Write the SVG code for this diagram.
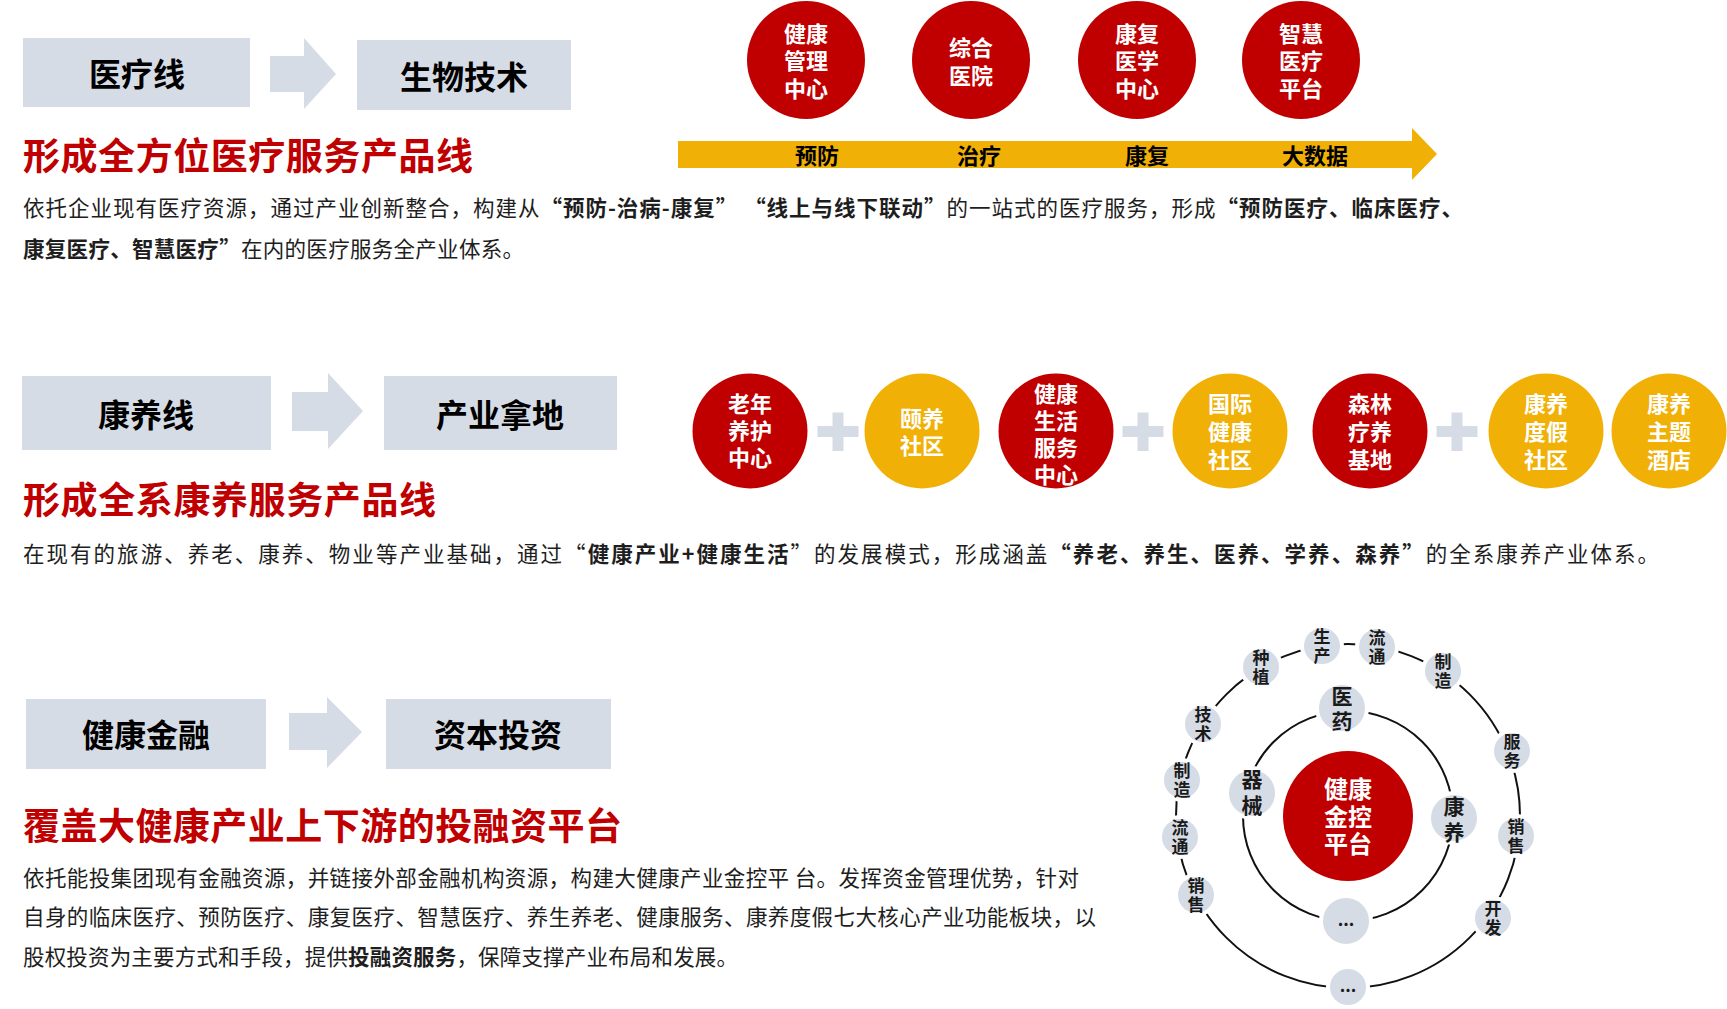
<svg xmlns="http://www.w3.org/2000/svg" width="1727" height="1009" viewBox="0 0 1727 1009">
<style>
text{font-family:"Noto Sans CJK SC","Liberation Sans",sans-serif}
.box{fill:#D6DCE5}
.boxt{font-size:32px;font-weight:700;fill:#000;text-anchor:middle}
.title{font-size:37px;font-weight:700;fill:#C00000}
.body{font-size:21.5px;fill:#1e1e1e}
.b{font-weight:700}
.red{fill:#C00000}
.yel{fill:#F0B005}
.ct{font-size:22px;font-weight:700;fill:#fff;text-anchor:middle}
.lab{font-size:22px;font-weight:700;fill:#000;text-anchor:middle}
.ring{fill:none;stroke:#111;stroke-width:2}
.sn{fill:#D6DCE5;stroke:#fff;stroke-width:4}
.st{font-size:17px;font-weight:700;fill:#1a1a1a;text-anchor:middle}
.mt{font-size:21px;font-weight:700;fill:#1a1a1a;text-anchor:middle}
</style>

<!-- Section 1 -->
<g id="box-yiliaoxian"><rect class="box" x="23" y="38" width="227" height="69"/><text class="boxt" x="137" y="86">医疗线</text></g>
<g id="arrow-1"><polygon class="box" points="270,56 304,56 304,38 336,74 304,109 304,92 270,92"/></g>
<g id="box-shengwujishu"><rect class="box" x="357" y="40" width="214" height="70"/><text class="boxt" x="464" y="89">生物技术</text></g>
<text class="title" x="23" y="170" textLength="450">形成全方位医疗服务产品线</text>
<text class="body" x="23" y="216" textLength="1440">依托企业现有医疗资源，通过产业创新整合，构建从<tspan class="b">“预防-治病-康复” “线上与线下联动”</tspan>的一站式的医疗服务，形成<tspan class="b">“预防医疗、临床医疗、</tspan></text>
<text class="body" x="23" y="257" textLength="501"><tspan class="b">康复医疗、智慧医疗”</tspan>在内的医疗服务全产业体系。</text>

<g id="timeline-arrow"><polygon class="yel" points="678,141 1412,141 1412,128 1437,154 1412,180 1412,168 678,168"/>
<text class="lab" x="817" y="164">预防</text><text class="lab" x="979" y="164">治疗</text><text class="lab" x="1147" y="164">康复</text><text class="lab" x="1315" y="164">大数据</text></g>

<g id="c-jiankangguanli"><circle class="red" cx="806" cy="60" r="59"/><text class="ct" x="806" y="41.5">健康<tspan x="806" dy="27.5">管理</tspan><tspan x="806" dy="27.5">中心</tspan></text></g>
<g id="c-zonghe"><circle class="red" cx="971" cy="60" r="59"/><text class="ct" x="971" y="56">综合<tspan x="971" dy="27.5">医院</tspan></text></g>
<g id="c-kangfu"><circle class="red" cx="1137" cy="60" r="59"/><text class="ct" x="1137" y="41.5">康复<tspan x="1137" dy="27.5">医学</tspan><tspan x="1137" dy="27.5">中心</tspan></text></g>
<g id="c-zhihui"><circle class="red" cx="1301" cy="60" r="59"/><text class="ct" x="1301" y="41.5">智慧<tspan x="1301" dy="27.5">医疗</tspan><tspan x="1301" dy="27.5">平台</tspan></text></g>

<!-- Section 2 -->
<g id="box-kangyangxian"><rect class="box" x="22" y="376" width="249" height="74"/><text class="boxt" x="146" y="427">康养线</text></g>
<g id="arrow-2"><polygon class="box" points="292,392 328,392 328,373 363,411 328,449 328,431 292,431"/></g>
<g id="box-chanyenadi"><rect class="box" x="384" y="376" width="233" height="74"/><text class="boxt" x="500" y="427">产业拿地</text></g>
<text class="title" x="23" y="514" textLength="413">形成全系康养服务产品线</text>
<text class="body" x="23" y="562" textLength="1636">在现有的旅游、养老、康养、物业等产业基础，通过“<tspan class="b">健康产业+健康生活</tspan>”的发展模式，形成涵盖<tspan class="b">“养老、养生、医养、学养、森养”</tspan>的全系康养产业体系。</text>

<g id="c-laonian"><circle class="red" cx="750" cy="431" r="57.5"/><text class="ct" x="750" y="411.5">老年<tspan x="750" dy="27">养护</tspan><tspan x="750" dy="27">中心</tspan></text></g>
<g id="plus-1"><path class="box" d="M832.5 412.5h11v13.5h15v11h-15v14h-11v-14h-15v-11h15z"/></g>
<g id="c-yiyang"><circle class="yel" cx="922" cy="431" r="57.5"/><text class="ct" x="922" y="427">颐养<tspan x="922" dy="27">社区</tspan></text></g>
<g id="c-jiankangshenghuo"><circle class="red" cx="1056" cy="431" r="57.5"/><text class="ct" x="1056" y="401.5">健康<tspan x="1056" dy="27.3">生活</tspan><tspan x="1056" dy="27.3">服务</tspan><tspan x="1056" dy="27.3">中心</tspan></text></g>
<g id="plus-2"><path class="box" d="M1137.5 412.5h11v13.5h15v11h-15v14h-11v-14h-15v-11h15z"/></g>
<g id="c-guoji"><circle class="yel" cx="1230" cy="431" r="57.5"/><text class="ct" x="1230" y="411.5">国际<tspan x="1230" dy="28">健康</tspan><tspan x="1230" dy="28">社区</tspan></text></g>
<g id="c-senlin"><circle class="red" cx="1370" cy="431" r="57.5"/><text class="ct" x="1370" y="411.5">森林<tspan x="1370" dy="28">疗养</tspan><tspan x="1370" dy="28">基地</tspan></text></g>
<g id="plus-3"><path class="box" d="M1451.5 412.5h11v13.5h15v11h-15v14h-11v-14h-15v-11h15z"/></g>
<g id="c-dujia"><circle class="yel" cx="1546" cy="431" r="57.5"/><text class="ct" x="1546" y="411.5">康养<tspan x="1546" dy="28">度假</tspan><tspan x="1546" dy="28">社区</tspan></text></g>
<g id="c-jiudian"><circle class="yel" cx="1669" cy="431" r="57.5"/><text class="ct" x="1669" y="411.5">康养<tspan x="1669" dy="28">主题</tspan><tspan x="1669" dy="28">酒店</tspan></text></g>

<!-- Section 3 -->
<g id="box-jiankangjinrong"><rect class="box" x="26" y="699" width="240" height="70"/><text class="boxt" x="146" y="747">健康金融</text></g>
<g id="arrow-3"><polygon class="box" points="289,713 327,713 327,697 362,732 327,768 327,750 289,750"/></g>
<g id="box-zibentouzi"><rect class="box" x="386" y="699" width="225" height="70"/><text class="boxt" x="498" y="747">资本投资</text></g>
<text class="title" x="23" y="840" textLength="599">覆盖大健康产业上下游的投融资平台</text>
<text class="body" x="23" y="886" textLength="1056">依托能投集团现有金融资源，并链接外部金融机构资源，构建大健康产业金控平 台。发挥资金管理优势，针对</text>
<text class="body" x="23" y="925" textLength="1073">自身的临床医疗、预防医疗、康复医疗、智慧医疗、养生养老、健康服务、康养度假七大核心产业功能板块，以</text>
<text class="body" x="23" y="965" textLength="715">股权投资为主要方式和手段，提供<tspan class="b">投融资服务</tspan>，保障支撑产业布局和发展。</text>

<g id="connectors">
<circle class="ring" cx="1348" cy="816" r="172"/>
<circle class="ring" cx="1348" cy="816" r="105"/>
</g>

<g id="n-center"><circle class="red" cx="1348" cy="816" r="65"/><text class="ct" style="font-size:24px" x="1348" y="798">健康<tspan x="1348" dy="27.5">金控</tspan><tspan x="1348" dy="27.5">平台</tspan></text></g>

<g id="n-yiyao"><circle class="sn" cx="1342" cy="708" r="25"/><text class="mt" x="1342" y="704">医<tspan x="1342" dy="25">药</tspan></text></g>
<g id="n-qixie"><circle class="sn" cx="1252" cy="793" r="25"/><text class="mt" x="1252" y="787">器<tspan x="1252" dy="26">械</tspan></text></g>
<g id="n-kangyang"><circle class="sn" cx="1454" cy="818" r="25"/><text class="mt" x="1454" y="814">康<tspan x="1454" dy="26">养</tspan></text></g>
<g id="n-inner-more"><circle class="sn" cx="1346" cy="921" r="25"/><text class="st" x="1346" y="926">...</text></g>

<g id="n-zhongzhi"><circle class="sn" cx="1261" cy="667" r="20"/><text class="st" x="1261" y="664">种<tspan x="1261" dy="19">植</tspan></text></g>
<g id="n-shengchan"><circle class="sn" cx="1322" cy="646" r="20"/><text class="st" x="1322" y="643">生<tspan x="1322" dy="19">产</tspan></text></g>
<g id="n-liutong"><circle class="sn" cx="1377" cy="647" r="20"/><text class="st" x="1377" y="644">流<tspan x="1377" dy="19">通</tspan></text></g>
<g id="n-zhizao"><circle class="sn" cx="1443" cy="671" r="20"/><text class="st" x="1443" y="668">制<tspan x="1443" dy="19">造</tspan></text></g>
<g id="n-fuwu"><circle class="sn" cx="1512" cy="751" r="20"/><text class="st" x="1512" y="748">服<tspan x="1512" dy="19">务</tspan></text></g>
<g id="n-xiaoshou-r"><circle class="sn" cx="1516" cy="836" r="20"/><text class="st" x="1516" y="833">销<tspan x="1516" dy="19">售</tspan></text></g>
<g id="n-kaifa"><circle class="sn" cx="1493" cy="918" r="20"/><text class="st" x="1493" y="915">开<tspan x="1493" dy="19">发</tspan></text></g>
<g id="n-outer-more"><circle class="sn" cx="1348" cy="987" r="20"/><text class="st" x="1348" y="992">...</text></g>
<g id="n-xiaoshou-l"><circle class="sn" cx="1196" cy="895" r="20"/><text class="st" x="1196" y="892">销<tspan x="1196" dy="19">售</tspan></text></g>
<g id="n-liutong-l"><circle class="sn" cx="1180" cy="837" r="20"/><text class="st" x="1180" y="834">流<tspan x="1180" dy="19">通</tspan></text></g>
<g id="n-zhizao-l"><circle class="sn" cx="1182" cy="780" r="20"/><text class="st" x="1182" y="777">制<tspan x="1182" dy="19">造</tspan></text></g>
<g id="n-jishu"><circle class="sn" cx="1203" cy="724" r="20"/><text class="st" x="1203" y="721">技<tspan x="1203" dy="19">术</tspan></text></g>
</svg>
